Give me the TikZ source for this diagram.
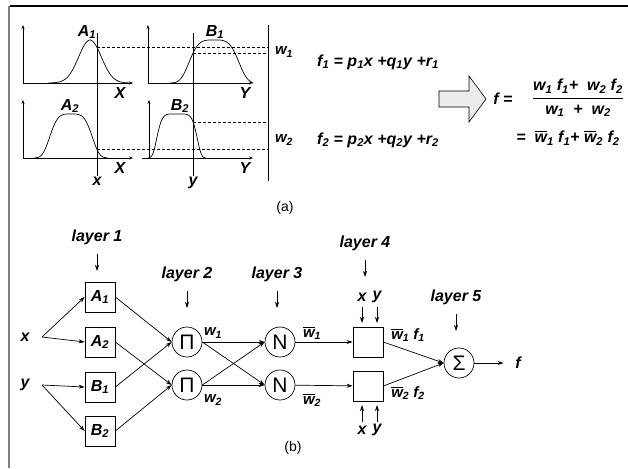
\documentclass[tikz,border=0pt]{standalone}
\usepackage{amsmath}
\usepackage{fontspec}
\setmainfont{Liberation Sans}
\usetikzlibrary{arrows.meta, positioning, calc}

\newcommand{\vb}[1]{\textbf{\textit{#1}}}
\newcommand{\vs}[2]{\vb{#1}\textsubscript{\vb{#2}}}
\newcommand{\wb}[1]{$\overline{\mbox{\vb{w}}}$\textsubscript{\vb{#1}}}

\begin{document}
\begin{tikzpicture}[x=1pt, y=-1pt, line width=0.7pt,
    >={Stealth[length=6pt,width=4pt]},
    declare function={bell(\t)=exp(-(\t)*(\t));
                      flat(\t)=exp(-((\t)*(\t))*((\t)*(\t)));
                      steep(\t)=exp(-((\t)*(\t))*((\t)*(\t))*((\t)*(\t)));},
    lbl/.style={font=\fontsize{16}{18}\selectfont\bfseries\itshape},
    sml/.style={font=\fontsize{15}{17}\selectfont\bfseries\itshape},
    subcap/.style={font=\fontsize{14}{16}\selectfont},
    axis/.style={-{Stealth[length=4pt,width=3pt]}, line width=0.6pt},
    guide/.style={dashed, dash pattern=on 3pt off 2pt, line width=0.6pt},
    memb/.style={draw, minimum size=30pt, inner sep=0pt, lbl},
    neuron/.style={draw, circle, minimum size=30pt, inner sep=0pt,
                   font=\fontsize{21}{21}\selectfont}]
    \useasboundingbox (0,0) rectangle (628,468);

    % frame
    \draw[line width=1.8pt] (10,6) -- (628,6);
    \draw[gray, line width=1.4pt] (9,6) -- (9,468);

    % (a) membership functions
    \foreach \ox/\oy/\sx/\ex in {23/83/23/133, 148/83/148/253, 23/158/23/133, 149/158/142/253} {
        \draw[axis] (\ox,\oy) -- (\ox,\oy-58);
        \draw[axis] (\sx,\oy) -- (\ex,\oy);
    }
    \draw[domain=48:132, samples=80, smooth] plot (\x, {83-43*bell((\x-90)/16)});
    \draw[domain=170:253, samples=80, smooth] plot (\x, {83-43*flat((\x-214)/27)});
    \draw[domain=34:108, samples=80, smooth] plot (\x, {158-44*flat((\x-71)/23)});
    \draw[domain=148:206, samples=80, smooth] plot (\x, {158-44*steep((\x-177)/21)});

    \node[lbl] (A1l) at (87,32) {\vs{A}{1}};
    \node[lbl] (B1l) at (215,32) {\vs{B}{1}};
    \node[lbl] (A2l) at (70,106) {\vs{A}{2}};
    \node[lbl] (B2l) at (180,106) {\vs{B}{2}};
    \node[lbl] at (120,93) {X};
    \node[lbl] at (245,93) {Y};
    \node[lbl] at (120,168) {X};
    \node[lbl] at (245,168) {Y};

    % inputs and firing strengths
    \draw (97,33) -- (97,176) node[below, lbl, inner sep=1pt] {x};
    \draw (193,33) -- (193,176) node[below, lbl, inner sep=1pt] {y};
    \draw (268,25) -- (268,181);
    \draw[guide] (97,47.5) -- (268,47.5);
    \draw[guide] (193,53.2) -- (268,53.2);
    \draw[guide] (193,121.8) -- (268,121.8);
    \draw[guide] (97,149.4) -- (268,149.4);
    \node[sml] at (284,52) {\vs{w}{1}};
    \node[sml] at (284,140) {\vs{w}{2}};

    % rules
    \node[lbl] (r1) at (378,62) {\vs{f}{1} = \vs{p}{1}x +\vs{q}{1}y +\vs{r}{1}};
    \node[lbl] (r2) at (378,140) {\vs{f}{2} = \vs{p}{2}x +\vs{q}{2}y +\vs{r}{2}};

    \draw[fill=gray!15, line width=0.6pt] (439,91) -- (469,91) -- (469,76) -- (486,99)
        -- (469,122) -- (469,107) -- (439,107) -- cycle;

    \node[lbl] (feq) at (503,99) {f =};
    \node[lbl] (frac) at (578,98) {$\dfrac{\mbox{\vs{w}{1} \vs{f}{1}+ \ \vs{w}{2} \vs{f}{2}}}{\mbox{\vs{w}{1} \ + \ \vs{w}{2}}}$};
    \node[lbl] (favg) at (568,138) {= \ \wb{1} \vs{f}{1}+ \wb{2} \vs{f}{2}};

    \node[subcap] at (285,208) {(a)};

    % (b) network
    \node[lbl] (L1) at (97,237) {layer 1};
    \node[lbl] (L2) at (187,274) {layer 2};
    \node[lbl] (L3) at (277,274) {layer 3};
    \node[lbl] (L4) at (365,243) {layer 4};
    \node[lbl] (L5) at (456,297) {layer 5};

    \node[lbl] (xl) at (25,337) {x};
    \node[lbl] (yl) at (25,385) {y};
    \coordinate (xs) at (42,337);
    \coordinate (ys) at (42,385);

    \node[memb] (A1) at (100,297) {\vs{A}{1}};
    \node[memb] (A2) at (100,342) {\vs{A}{2}};
    \node[memb] (B1) at (100,387) {\vs{B}{1}};
    \node[memb] (B2) at (100,431) {\vs{B}{2}};

    \node[neuron] (P1) at (187,342) {Π};
    \node[neuron] (P2) at (187,385) {Π};
    \node[neuron] (N1) at (280,342) {N};
    \node[neuron] (N2) at (280,385) {N};

    \node[draw, minimum size=30pt] (M1) at (368,342) {};
    \node[draw, minimum size=30pt] (M2) at (368,386) {};
    \node[neuron] (S) at (459,363) {Σ};
    \node[lbl] (fo) at (518,363) {f};

    \node[sml] at (213,333) {\vs{w}{1}};
    \node[sml] at (213,400) {\vs{w}{2}};
    \node[sml] at (312,333) {\wb{1}};
    \node[sml] at (312,400) {\wb{2}};
    \node[sml] at (408,335) {\wb{1} \vs{f}{1}};
    \node[sml] at (408,393) {\wb{2} \vs{f}{2}};

    \node[lbl] (x4) at (362,297) {x};
    \node[lbl] (y4) at (377,297) {y};
    \node[lbl] (x5) at (362,430) {x};
    \node[lbl] (y5) at (377,430) {y};

    % layer arrows
    \foreach \n in {L1, L2, L3, L4, L5}
        \draw[->] (\n) ++(0,17) -- ++(0,17);
    \foreach \n in {x4, y4}
        \draw[->] (\n) ++(0,10) -- ++(0,16);
    \foreach \n in {x5, y5}
        \draw[->] (\n) ++(0,-8) -- ++(0,-17);

    % connections
    \draw[->] (xs) -- (A1.west);
    \draw[->] (xs) -- (A2.west);
    \draw[->] (ys) -- (B1.west);
    \draw[->] (ys) -- (B2.west);
    \draw[->] (A1.east) -- (P1.west);
    \draw[->] (B1.east) -- (P1.west);
    \draw[->] (A2.east) -- (P2.west);
    \draw[->] (B2.east) -- (P2.west);
    \foreach \p in {P1, P2}
        \foreach \q in {N1, N2}
            \draw[->] (\p.east) -- (\q.west);
    \draw[->] (N1) -- (M1);
    \draw[->] (N2) -- (M2);
    \draw[->] (M1.east) -- (S.west);
    \draw[->] (M2.east) -- (S.west);
    \draw[->, shorten >=8pt] (S) -- (fo.west);

    \node[subcap] at (293,448) {(b)};
\end{tikzpicture}
\end{document}
